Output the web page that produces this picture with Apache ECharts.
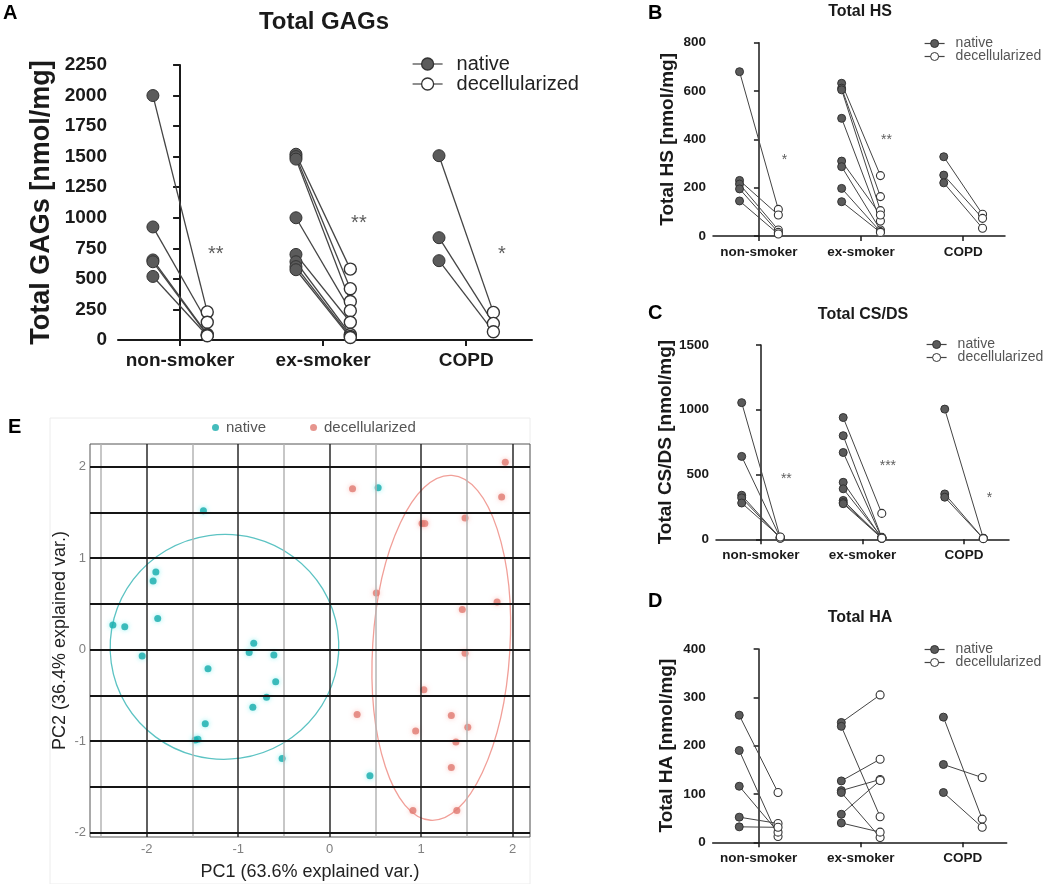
<!DOCTYPE html>
<html><head><meta charset="utf-8">
<script src="https://cdn.jsdelivr.net/npm/echarts@6/dist/echarts.min.js"></script>
<style>html,body{margin:0;padding:0;background:#fff}#c{width:1050px;height:884px}</style>
</head><body><div id="c"></div>
<script>
// ---------- data ----------
const groups = ['non-smoker', 'ex-smoker', 'COPD'];
const legendNames = ['native', 'decellularized'];

// Total GAGs (paired by index within each group)
const gagNative = [[2000, 925, 655, 640, 520], [1520, 1500, 1480, 1000, 700, 640, 600, 575], [1508, 837, 649]];
const gagDecell = [[230, 145, 45, 40, 35], [580, 420, 315, 240, 145, 45, 30, 20], [226, 136, 68]];
const gagStars = ['**', '**', '*'];
const gagStarY = [700, 955, 700];

// Total HS
const hsNative = [[680, 230, 215, 195, 145], [632, 612, 605, 487, 310, 287, 197, 142], [328, 252, 220]];
const hsDecell = [[110, 87, 25, 15, 8], [250, 163, 105, 62, 87, 25, 18, 15], [90, 73, 32]];
const hsStars = ['*', '**', ''];
const hsStarY = [316, 395, 0];

// Total CS/DS
const csNative = [[1055, 640, 340, 320, 280], [940, 800, 670, 440, 390, 300, 285, 275], [1005, 350, 325]];
const csDecell = [[15, 12, 10, 8, 18], [200, 12, 10, 8, 15, 10, 12, 8], [8, 6, 5]];
const csStars = ['**', '***', '*'];
const csStarY = [462, 565, 320];

// Total HA
const haNative = [[263, 190, 116, 52, 32], [248, 240, 127, 107, 103, 58, 40], [259, 161, 103]];
const haDecell = [[103, 12, 21, 39, 31], [305, 53, 172, 130, 10, 128, 21], [48, 134, 31]];
const haStars = ['', '', ''];
const haStarY = [0, 0, 0];

// PCA (panel E)
const pcaNativeX = [-1.38, -1.90, -1.93, -1.88, -2.37, -2.24, -2.05, -1.33, -0.83, -0.88, -0.61, -0.59, -0.69, -0.84, -1.36, -1.44, -1.47, -0.52, 0.53, 0.44];
const pcaNativeY = [1.52, 0.85, 0.75, 0.34, 0.27, 0.25, -0.07, -0.21, 0.07, -0.03, -0.06, -0.35, -0.52, -0.63, -0.81, -0.98, -0.99, -1.19, 1.77, -1.38];
const pcaDecellX = [1.92, 1.88, 0.25, 1.48, 1.04, 1.01, 0.51, 1.83, 1.45, 1.48, 1.03, 0.30, 1.33, 1.51, 0.94, 1.38, 1.33, 0.91, 1.39];
const pcaDecellY = [2.05, 1.67, 1.76, 1.44, 1.38, 1.38, 0.62, 0.52, 0.44, -0.04, -0.44, -0.71, -0.72, -0.85, -0.89, -1.01, -1.29, -1.76, -1.76];
const ellipseCenter = [[-1.15, 0.03], [1.22, 0.02]];
const ellipseRadii = [[1.25, 1.23], [0.75, 1.89]];
const ellipseTilt = [8, -3.5];
const pcaTicks = [-2, -1, 0, 1, 2];

// ---------- layout / style ----------
const FONT = "'Liberation Sans', Arial, sans-serif";
const INK = '#1a1a1a';

const panels = [
  { n: gagNative, d: gagDecell, st: gagStars, sy: gagStarY, yName: 'Total GAGs [nmol/mg]', yMax: 2250, yInt: 250,
    grid: { left: 118, top: 65, width: 414, height: 275 }, xMin: -0.434, xMax: 2.46, big: true, nameGap: 63,
    legend: { left: 407, top: 49 }, title: 'Total GAGs', tx: 324, ty: 22, letter: 'A', lx: 3, ly: 13 },
  { n: hsNative, d: hsDecell, st: hsStars, sy: hsStarY, yName: 'Total HS [nmol/mg]', yMax: 800, yInt: 200,
    grid: { left: 713, top: 42.7, width: 292, height: 193.3 }, xMin: -0.45, xMax: 2.41, big: false, nameGap: 36,
    legend: { left: 919, top: 31.5 }, title: 'Total HS', tx: 860, ty: 12, letter: 'B', lx: 648, ly: 13 },
  { n: csNative, d: csDecell, st: csStars, sy: csStarY, yName: 'Total CS/DS [nmol/mg]', yMax: 1500, yInt: 500,
    grid: { left: 716, top: 345, width: 293, height: 194.3 }, xMin: -0.443, xMax: 2.443, big: false, nameGap: 39,
    legend: { left: 921, top: 332.5 }, title: 'Total CS/DS', tx: 863, ty: 315, letter: 'C', lx: 648, ly: 313 },
  { n: haNative, d: haDecell, st: haStars, sy: haStarY, yName: 'Total HA [nmol/mg]', yMax: 400, yInt: 100,
    grid: { left: 712.7, top: 649, width: 294, height: 193.3 }, xMin: -0.45, xMax: 2.43, big: false, nameGap: 36,
    legend: { left: 919, top: 637.5 }, title: 'Total HA', tx: 860, ty: 618, letter: 'D', lx: 648, ly: 601 }
];

const OFF = 0.19;
const grids = [], xAxes = [], yAxes = [], series = [], legends = [], graphics = [];

panels.forEach((p, i) => {
  const big = p.big;
  const aw = big ? 2 : 1.5;
  const tickFs = big ? 19 : 13.5;
  const catFs = big ? 19 : 13.5;
  const nameFs = big ? 27 : 19;
  const sym = big ? 12 : 8;
  const lw = big ? 1.3 : 1;
  grids.push(Object.assign({ containLabel: false }, p.grid));
  xAxes.push({
    gridIndex: i, type: 'value', min: p.xMin, max: p.xMax,
    axisLine: { show: true, onZero: false, lineStyle: { color: INK, width: aw } },
    axisTick: { show: true, customValues: [0, 1, 2], length: big ? 6 : 5, lineStyle: { color: INK, width: aw } },
    axisLabel: { customValues: [0, 1, 2], formatter: v => groups[Math.round(v)], fontFamily: FONT, fontWeight: 'bold',
      fontSize: catFs, color: INK, margin: big ? 11 : 9 },
    splitLine: { show: false }
  });
  yAxes.push({
    gridIndex: i, type: 'value', min: 0, max: p.yMax, interval: p.yInt,
    name: p.yName, nameLocation: 'middle', nameRotate: 90, nameGap: p.nameGap,
    nameTextStyle: { fontFamily: FONT, fontWeight: 'bold', fontSize: nameFs, color: INK },
    axisLine: { show: true, lineStyle: { color: INK, width: aw } },
    axisTick: { show: true, length: big ? 7 : 5, lineStyle: { color: INK, width: aw } },
    axisLabel: { formatter: v => String(v), fontFamily: FONT, fontWeight: 'bold', fontSize: tickFs, color: INK, margin: big ? 11 : 7 },
    splitLine: { show: false }
  });
  const nat = [], dec = [], segs = [], stars = [];
  p.n.forEach((vals, g) => {
    vals.forEach((v, k) => {
      const dv = p.d[g][k];
      nat.push([g - OFF, v]);
      dec.push([g + OFF, dv]);
      segs.push({ coords: [[g - OFF, v], [g + OFF, dv]] });
    });
    if (p.st[g]) stars.push([g + 0.25, p.sy[g], p.st[g]]);
  });
  series.push({ type: 'lines', coordinateSystem: 'cartesian2d', xAxisIndex: i, yAxisIndex: i, silent: true, z: 2,
    lineStyle: { color: '#444', width: lw, opacity: 1, curveness: 0 }, data: segs });
  series.push({ type: 'line', name: 'native', xAxisIndex: i, yAxisIndex: i, data: nat, symbol: 'circle', symbolSize: sym,
    lineStyle: { width: 0 }, itemStyle: { color: '#5b5b5b', borderColor: '#333', borderWidth: 1 }, z: 3, silent: true });
  series.push({ type: 'line', name: 'decellularized', xAxisIndex: i, yAxisIndex: i, data: dec, symbol: 'circle', symbolSize: sym,
    lineStyle: { width: 0 }, itemStyle: { color: '#ffffff', borderColor: '#333', borderWidth: big ? 1.4 : 1.1 }, z: 4, silent: true });
  series.push({ type: 'scatter', xAxisIndex: i, yAxisIndex: i, data: stars, symbolSize: 0, silent: true, z: 5,
    label: { show: true, position: 'inside', formatter: q => q.value[2], fontFamily: FONT, fontSize: big ? 20 : 14, color: '#333' } });
  legends.push({
    left: p.legend.left, top: p.legend.top, orient: 'vertical', selectedMode: false,
    itemWidth: big ? 30 : 20, itemHeight: big ? 15 : 10, itemGap: big ? 0 : -1,
    data: legendNames,
    textStyle: { fontFamily: FONT, fontSize: big ? 20 : 14, lineHeight: big ? 20 : 13, color: big ? '#222' : '#555',
      padding: [0, 0, 0, big ? 9 : 6] },
    lineStyle: { color: '#444', width: 1.2, opacity: 1 },
    itemStyle: { borderWidth: big ? 1.3 : 1, opacity: 1 }
  });
  graphics.push({ type: 'text', x: p.tx, y: p.ty, style: { text: p.title, fill: INK, font: 'bold ' + (big ? 24 : 16) + 'px ' + FONT, align: 'center', verticalAlign: 'middle' } });
  graphics.push({ type: 'text', x: p.lx, y: p.ly, style: { text: p.letter, fill: '#000', font: 'bold 20px ' + FONT, align: 'left', verticalAlign: 'middle' } });
});

// ---------- panel E ----------
const eI = 4;
grids.push({ left: 90, top: 444, width: 440, height: 393, show: true, borderColor: '#555', borderWidth: 1, backgroundColor: 'transparent' });
xAxes.push({ gridIndex: eI, type: 'value', min: -2.62, max: 2.19,
  name: 'PC1 (63.6% explained var.)', nameLocation: 'middle', nameGap: 26,
  nameTextStyle: { fontFamily: FONT, fontSize: 18, color: '#222' },
  axisLine: { show: false }, axisTick: { show: false },
  axisLabel: { customValues: pcaTicks, fontFamily: FONT, fontSize: 13, color: '#808080', margin: 6 },
  splitLine: { show: false } });
yAxes.push({ gridIndex: eI, type: 'value', min: -2.05, max: 2.25,
  name: 'PC2 (36.4% explained var.)', nameLocation: 'middle', nameRotate: 90, nameGap: 21,
  nameTextStyle: { fontFamily: FONT, fontSize: 18, color: '#222' },
  axisLine: { show: false }, axisTick: { show: false },
  axisLabel: { customValues: pcaTicks, fontFamily: FONT, fontSize: 13, color: '#808080', margin: 4 },
  splitLine: { show: false } });

const gridLineData = [];
for (let k = -5; k <= 4; k++) {
  const v = k / 2;
  const major = Number.isInteger(v);
  gridLineData.push({ xAxis: v, lineStyle: { color: major ? '#2a2a2a' : '#b5b5b5', width: 1.5, type: 'solid' } });
}
for (let k = -4; k <= 4; k++) {
  gridLineData.push({ yAxis: k / 2, lineStyle: { color: '#151515', width: 2, type: 'solid' } });
}
series.push({ type: 'scatter', xAxisIndex: eI, yAxisIndex: eI, data: [], silent: true, z: 1,
  markLine: { silent: true, symbol: ['none', 'none'], label: { show: false }, animation: false, data: gridLineData } });

const ellColors = ['#5cc3c3', '#f19f98'];
series.push({ type: 'custom', xAxisIndex: eI, yAxisIndex: eI, silent: true, z: 2,
  data: ellipseCenter.map((c, k) => [c[0], c[1], ellipseRadii[k][0], ellipseRadii[k][1], ellipseTilt[k]]),
  renderItem: (params, api) => {
    const c = api.coord([api.value(0), api.value(1)]);
    const s = api.size([api.value(2), api.value(3)]);
    return { type: 'ellipse', x: c[0], y: c[1], rotation: api.value(4) * Math.PI / 180,
      shape: { cx: 0, cy: 0, rx: s[0], ry: s[1] },
      style: { fill: 'none', stroke: ellColors[params.dataIndex], lineWidth: 1.3 } };
  } });
series.push({ type: 'scatter', name: 'PCA native', xAxisIndex: eI, yAxisIndex: eI, z: 3, silent: true,
  data: pcaNativeX.map((x, k) => [x, pcaNativeY[k]]), symbolSize: 7,
  itemStyle: { color: '#17abab', shadowBlur: 5, shadowColor: 'rgba(60,230,230,0.7)' } });
series.push({ type: 'scatter', name: 'PCA decellularized', xAxisIndex: eI, yAxisIndex: eI, z: 3, silent: true,
  data: pcaDecellX.map((x, k) => [x, pcaDecellY[k]]), symbolSize: 7,
  itemStyle: { color: '#e07a72', shadowBlur: 5, shadowColor: 'rgba(250,150,140,0.7)' } });
legends.push({ left: 207, top: 415, orient: 'horizontal', selectedMode: false, icon: 'circle',
  itemWidth: 7, itemHeight: 7, itemGap: 44,
  data: ['PCA native', 'PCA decellularized'], formatter: nm => nm.replace('PCA ', ''),
  textStyle: { fontFamily: FONT, fontSize: 15, color: '#555', padding: [0, 0, 0, 2] } });

graphics.push({ type: 'rect', shape: { x: 50, y: 418, width: 480, height: 466 }, style: { fill: 'none', stroke: '#ececec', lineWidth: 1 }, z: -1 });
graphics.push({ type: 'text', x: 8, y: 427, style: { text: 'E', fill: '#000', font: 'bold 20px ' + FONT, align: 'left', verticalAlign: 'middle' } });

const chart = echarts.init(document.getElementById('c'), null, { renderer: 'canvas' });
chart.setOption({
  animation: false,
  backgroundColor: '#ffffff',
  grid: grids, xAxis: xAxes, yAxis: yAxes, series: series, legend: legends, graphic: graphics
});
</script>
</body></html>
